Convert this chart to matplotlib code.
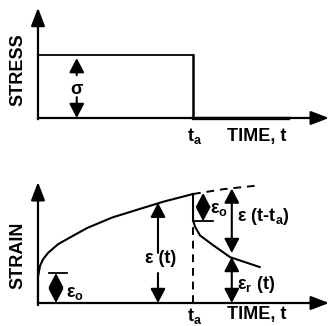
import numpy as np
import matplotlib.pyplot as plt

plt.rcParams['font.family'] = ['Liberation Sans', 'DejaVu Sans']
plt.rcParams['font.weight'] = 'bold'
plt.rcParams['mathtext.fontset'] = 'custom'
plt.rcParams['mathtext.rm'] = 'Liberation Sans:bold'
plt.rcParams['mathtext.it'] = 'Liberation Sans:bold'
plt.rcParams['mathtext.bf'] = 'Liberation Sans:bold'
plt.rcParams['mathtext.default'] = 'rm'

# time in units of t_a, stress / strain in relative units
t_a = 1.0
stress_level = 1.0
stress_end = 1.61

# creep curve under load
creep_t = [0, 0, 0.013, 0.032, 0.065, 0.13, 0.23, 0.32, 0.48, 0.65, 0.81, 1.0]
creep_e = [0, 0.24, 0.34, 0.40, 0.46, 0.54, 0.62, 0.69, 0.785, 0.86, 0.93, 1.0]
# continued creep had the load stayed on
ext_t = [1.0, 1.2, 1.43]
ext_e = [1.0, 1.045, 1.08]
# recovery after unloading
recov_t = [1.0, 1.0, 1.013, 1.045, 1.13, 1.24, 1.43]
recov_e = [1.0, 0.76, 0.70, 0.62, 0.53, 0.42, 0.33]

eps0 = 0.275
t_eps0 = 0.116
t_eps_t = 0.774
t_eps0_rec = 1.065
t_rec = 1.25

x_lim = (-0.245, 1.877)
fs = 13

fig = plt.figure(figsize=(3.29, 3.26), dpi=100)
ax1 = fig.add_axes([0, 166 / 326, 1, 160 / 326])
ax2 = fig.add_axes([0, 0, 1, 166 / 326])
ax1.set_xlim(*x_lim)
ax1.set_ylim(-0.667, 1.873)
ax2.set_xlim(*x_lim)
ax2.set_ylim(-0.211, 1.312)
for ax in (ax1, ax2):
    ax.set_axis_off()

axis_arrow = dict(arrowstyle='-|>,head_length=1.1,head_width=0.42',
                  mutation_scale=10, lw=1.6, color='black',
                  shrinkA=0, shrinkB=0)
small_arrow = dict(arrowstyle='-|>,head_length=0.86,head_width=0.45',
                   mutation_scale=10, lw=1.5, color='black',
                   shrinkA=0, shrinkB=0)
double_arrow = dict(small_arrow, arrowstyle='<|-|>,head_length=0.86,head_width=0.45')


def arrow(ax, x0, y0, x1, y1, props):
    ax.annotate('', xy=(x1, y1), xytext=(x0, y0), arrowprops=props,
                annotation_clip=False)


# ---- stress panel ----
arrow(ax1, 0, -0.02, 0, 1.75, axis_arrow)
arrow(ax1, 0, 0, x_lim[1], 0, axis_arrow)
ax1.plot([0, t_a], [stress_level, stress_level], color='black', lw=1.3)
ax1.plot([t_a, t_a], [stress_level, 0], color='black', lw=1.8)
ax1.plot([t_a, stress_end], [0, 0], color='black', lw=2.4)
arrow(ax1, 0.25, 0.68, 0.25, 0.95, small_arrow)
arrow(ax1, 0.25, 0.33, 0.25, 0.0, small_arrow)
ax1.text(0.25, 0.46, 'σ', ha='center', va='center', fontsize=fs)
ax1.text(-0.132, 0.76, 'STRESS', rotation=90, ha='center', va='center', fontsize=fs)
ax1.text(1.01, -0.29, r'$t_a$', ha='center', va='center', fontsize=fs)
ax1.text(1.22, -0.29, 'TIME, t', ha='left', va='center', fontsize=fs)

# ---- strain panel ----
arrow(ax2, 0, -0.02, 0, 1.11, axis_arrow)
arrow(ax2, 0, 0, x_lim[1], 0, axis_arrow)
ax2.plot([t_a, t_a], [0, 0.76], color='black', lw=1.4, ls=(0, (4, 3)), zorder=1)
ax2.plot(creep_t, creep_e, color='black', lw=1.5)
ax2.plot(ext_t, ext_e, color='black', lw=1.4, ls=(0, (4, 3)))
ax2.plot(recov_t, recov_e, color='black', lw=1.5)

# initial elastic strain
ax2.plot([0.07, 0.19], [eps0, eps0], color='black', lw=1.3)
arrow(ax2, t_eps0, 0.0, t_eps0, eps0, double_arrow)
ax2.text(0.18, 0.085, r'$ε_o$', ha='left', va='center', fontsize=fs)

# total strain
arrow(ax2, t_eps_t, 0.46, t_eps_t, 0.92, small_arrow)
arrow(ax2, t_eps_t, 0.275, t_eps_t, 0.0, small_arrow)
ax2.text(0.79, 0.41, 'ε (t)', ha='center', va='center', fontsize=fs)

# elastic recovery
ax2.plot([t_a, 1.13], [0.75, 0.75], color='black', lw=1.3)
arrow(ax2, t_eps0_rec, 0.75, t_eps0_rec, 1.01, double_arrow)
ax2.text(1.11, 0.86, r'$ε_o$', ha='left', va='center', fontsize=fs)

# recovered and residual strain
arrow(ax2, t_rec, 0.459, t_rec, 1.05, double_arrow)
arrow(ax2, t_rec, 0.0, t_rec, 0.422, double_arrow)
ax2.text(1.285, 0.79, r'$ε\ (t\text{-}t_a)$', ha='left', va='center', fontsize=fs)
ax2.text(1.285, 0.17, r'$ε_r\ (t)$', ha='left', va='center', fontsize=fs)

ax2.text(-0.132, 0.44, 'STRAIN', rotation=90, ha='center', va='center', fontsize=fs)
ax2.text(1.01, -0.115, r'$t_a$', ha='center', va='center', fontsize=fs)
ax2.text(1.22, -0.11, 'TIME, t', ha='left', va='center', fontsize=fs)

fig.savefig('out.png', dpi=100)
